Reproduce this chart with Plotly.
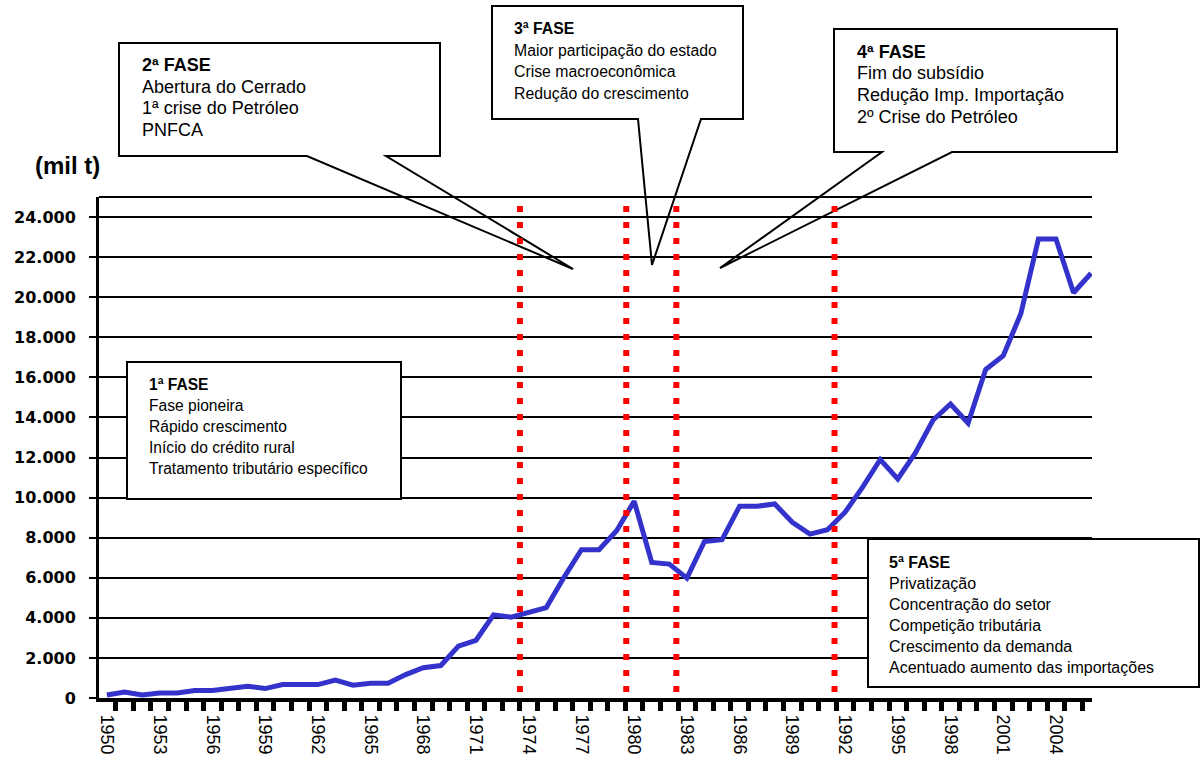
import plotly.graph_objects as go

# ---------------- data ----------------
years = list(range(1950, 2007))
production = [150, 300, 150, 250, 250, 370, 370, 470, 590, 470,
              670, 670, 670, 890, 640, 740, 740, 1170, 1510, 1620,
              2590, 2880, 4150, 4030, 4260, 4510, 6010, 7400, 7400, 8350,
              9820, 6760, 6680, 5980, 7810, 7900, 9570, 9570, 9680, 8770,
              8180, 8400, 9270, 10520, 11900, 10930, 12230, 13860, 14670, 13710,
              16390, 17080, 19170, 22900, 22900, 20220, 21200]

x_tick_years = [1950, 1953, 1956, 1959, 1962, 1965, 1968, 1971, 1974, 1977,
                1980, 1983, 1986, 1989, 1992, 1995, 1998, 2001, 2004]
x_tick_labels = [str(y) for y in x_tick_years]

y_tick_values = [0, 2000, 4000, 6000, 8000, 10000, 12000,
                 14000, 16000, 18000, 20000, 22000, 24000]
y_tick_labels = ["0", "2.000", "4.000", "6.000", "8.000", "10.000", "12.000",
                 "14.000", "16.000", "18.000", "20.000", "22.000", "24.000"]

phase_breaks = [1973.5, 1979.55, 1982.4, 1991.4]

phase_titles = ["1ª FASE", "2ª FASE", "3ª FASE", "4ª FASE", "5ª FASE"]
phase_items = [
    ["Fase pioneira", "Rápido crescimento", "Início do crédito rural",
     "Tratamento tributário específico"],
    ["Abertura do Cerrado", "1ª crise do Petróleo", "PNFCA"],
    ["Maior participação do estado", "Crise macroeconômica",
     "Redução do crescimento"],
    ["Fim do subsídio", "Redução Imp. Importação", "2º Crise do Petróleo"],
    ["Privatização", "Concentração do setor", "Competição tributária",
     "Crescimento da demanda", "Acentuado aumento das importações"],
]

# ---------------- layout geometry (pixels) ----------------
W, H = 1200, 758
PL, PR, PT, PB = 99, 1092, 197, 698


def px(x):
    return (x - PL) / (PR - PL)


def py(y):
    return (PB - y) / (PB - PT)


ARIAL = "Liberation Sans, Arial"

boxes = [
    dict(rect=(127, 362, 401, 499), tx=147, ty=384.5, dy=21, size=15.6, ptr=None),
    dict(rect=(119, 43, 440, 156), tx=140, ty=65, dy=21.7, size=18,
         ptr=((307, 156), (573, 269), (386, 156))),
    dict(rect=(492, 6, 743, 119), tx=512, ty=28.5, dy=21.5, size=15.8,
         ptr=((638, 119), (652, 265), (701, 119))),
    dict(rect=(834, 29, 1117, 152), tx=855, ty=51.7, dy=21.7, size=18,
         ptr=((882, 152), (720, 268), (952, 152))),
    dict(rect=(868, 539, 1199, 687), tx=887, ty=562, dy=21, size=16, ptr=None),
]

fig = go.Figure()

fig.add_trace(go.Scatter(
    x=years, y=production, mode="lines",
    line=dict(color="#3333CC", width=5),
    hoverinfo="skip", showlegend=False,
))

shapes = []
# top border of plot area
shapes.append(dict(type="line", xref="paper", yref="paper", x0=0, x1=1, y0=1, y1=1,
                   line=dict(color="black", width=2), layer="above"))
# phase break dotted red lines
for xb in phase_breaks:
    shapes.append(dict(type="line", xref="x", yref="y", x0=xb, x1=xb, y0=24550, y1=0,
                       line=dict(color="#FF0000", width=6, dash="6px,10px"), layer="above"))

annotations = []
for b, title, items in zip(boxes, phase_titles, phase_items):
    x0, y0, x1, y1 = b["rect"]
    if b["ptr"] is None:
        path = (f"M {px(x0)} {py(y0)} L {px(x1)} {py(y0)} L {px(x1)} {py(y1)} "
                f"L {px(x0)} {py(y1)} Z")
        layer = "above"
    else:
        (bx1, by1), (tx_, ty_), (bx2, by2) = b["ptr"]
        path = (f"M {px(x0)} {py(y0)} L {px(x1)} {py(y0)} L {px(x1)} {py(y1)} "
                f"L {px(bx2)} {py(by2)} L {px(tx_)} {py(ty_)} L {px(bx1)} {py(by1)} "
                f"L {px(x0)} {py(y1)} Z")
        layer = "below"
    shapes.append(dict(type="path", xref="paper", yref="paper", path=path,
                       fillcolor="white", line=dict(color="black", width=2), layer=layer))
    lines = [title] + items
    for i, t in enumerate(lines):
        annotations.append(dict(
            xref="paper", yref="paper", x=px(b["tx"]), y=py(b["ty"] + i * b["dy"]),
            xanchor="left", yanchor="middle", showarrow=False,
            text=f"<b>{t}</b>" if i == 0 else t,
            font=dict(family=ARIAL, size=b["size"], color="black"),
        ))

annotations.append(dict(
    xref="paper", yref="paper", x=px(67), y=py(166), xanchor="center", yanchor="middle",
    showarrow=False, text="<b>(mil t)</b>",
    font=dict(family=ARIAL, size=24, color="black"),
))

fig.update_layout(
    width=W, height=H,
    margin=dict(l=PL, r=W - PR, t=PT, b=H - PB, pad=0, autoexpand=False),
    paper_bgcolor="white", plot_bgcolor="white",
    showlegend=False,
    shapes=shapes,
    annotations=annotations,
    xaxis=dict(
        range=[1949.55, 2006.05],
        tickmode="array", tickvals=x_tick_years, ticktext=x_tick_labels,
        tickangle=90, ticks="",
        tickfont=dict(family=ARIAL, size=18, color="black"),
        ticklabelstandoff=9,
        showline=True, linecolor="black", linewidth=4,
        showgrid=False, zeroline=False, automargin=False,
        minor=dict(ticks="outside", tick0=1949.5, dtick=1, ticklen=9,
                   tickwidth=5, tickcolor="black", showgrid=False),
        fixedrange=True,
    ),
    yaxis=dict(
        range=[0, 25000],
        tickmode="array", tickvals=y_tick_values, ticktext=y_tick_labels,
        ticks="outside", ticklen=7, tickwidth=2, tickcolor="black",
        tickfont=dict(family="DejaVu Sans", size=16, color="black", weight="bold"),
        ticklabelstandoff=10,
        showline=True, linecolor="black", linewidth=3,
        showgrid=True, gridcolor="black", gridwidth=2,
        zeroline=False, fixedrange=True, automargin=False,
    ),
)

fig.write_html("out.html")
